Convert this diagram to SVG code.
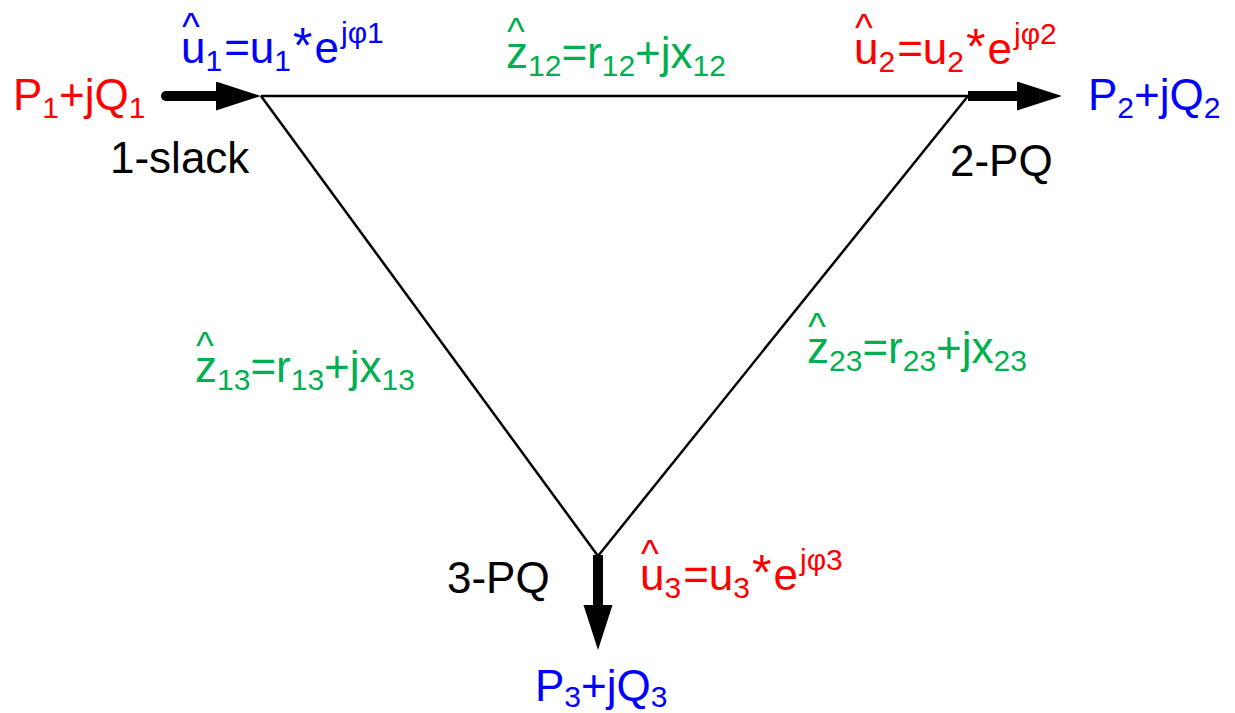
<svg xmlns="http://www.w3.org/2000/svg" width="1235" height="713" viewBox="0 0 1235 713">
<defs>
<style>
.t{font-family:"Liberation Sans",Arial,sans-serif;font-size:44px}
.sub{font-size:30px}
.sup{font-size:30px}
.ast{font-size:50px}
.hat{font-size:38px}
.red{fill:#FF0000}
.blue{fill:#0000FF}
.green{fill:#00B050}
.black{fill:#000000}
.edge{stroke:#000;stroke-width:2.5;fill:none}
.flow{stroke:#000;stroke-width:10;fill:none;marker-end:url(#head)}
</style>
<marker id="head" markerUnits="userSpaceOnUse" markerWidth="46" markerHeight="30" refX="9" refY="14.5" orient="auto" viewBox="0 0 46 30">
<path d="M0,0 L45,14.5 L0,29 Z" fill="#000"/>
</marker>
</defs>
<rect width="1235" height="713" fill="#fff"/>
<g id="connectors">
<line class="edge" x1="261" y1="96" x2="968" y2="96"/>
<line class="edge" x1="261" y1="96" x2="598" y2="556"/>
<line class="edge" x1="968" y1="96" x2="598" y2="556"/>
<line class="flow" x1="166" y1="96" x2="225" y2="96" stroke-linecap="round"/>
<line class="flow" x1="968" y1="96" x2="1026" y2="96"/>
<line class="flow" x1="598" y1="555" x2="598" y2="614"/>
</g>
<g id="node1">
<text class="t red" x="13" y="110">P<tspan class="sub" dy="8">1</tspan><tspan dy="-8">+jQ</tspan><tspan class="sub" dy="8">1</tspan></text>
<text class="t black" x="110" y="173">1-slack</text>
<text class="t blue" x="181" y="63"><tspan class="hat" x="182" dy="-23">^</tspan><tspan x="181" dy="23">u</tspan><tspan class="sub" dy="8">1</tspan><tspan dy="-8" dx="2">=u</tspan><tspan class="sub" dy="8">1</tspan><tspan class="ast" dy="-8" dx="2">*</tspan><tspan dx="2">e</tspan><tspan class="sup" dy="-20" dx="2">jφ1</tspan></text>
</g>
<g id="node2">
<text class="t red" x="854" y="64"><tspan class="hat" x="855" dy="-23">^</tspan><tspan x="854" dy="23">u</tspan><tspan class="sub" dy="8">2</tspan><tspan dy="-8" dx="2">=u</tspan><tspan class="sub" dy="8">2</tspan><tspan class="ast" dy="-8" dx="2">*</tspan><tspan dx="2">e</tspan><tspan class="sup" dy="-20" dx="2">jφ2</tspan></text>
<text class="t blue" x="1088" y="110">P<tspan class="sub" dy="8">2</tspan><tspan dy="-8">+jQ</tspan><tspan class="sub" dy="8">2</tspan></text>
<text class="t black" x="950" y="176">2-PQ</text>
</g>
<g id="node3">
<text class="t black" x="447" y="593">3-PQ</text>
<text class="t red" x="640" y="590"><tspan class="hat" x="641" dy="-23">^</tspan><tspan x="640" dy="23">u</tspan><tspan class="sub" dy="8">3</tspan><tspan dy="-8" dx="2">=u</tspan><tspan class="sub" dy="8">3</tspan><tspan class="ast" dy="-8" dx="2">*</tspan><tspan dx="2">e</tspan><tspan class="sup" dy="-20" dx="2">jφ3</tspan></text>
<text class="t blue" x="535" y="701">P<tspan class="sub" dy="6">3</tspan><tspan dy="-6">+jQ</tspan><tspan class="sub" dy="6">3</tspan></text>
</g>
<g id="edge-labels">
<text class="t green" x="506" y="68"><tspan class="hat" x="507" dy="-23">^</tspan><tspan x="506" dy="23">z</tspan><tspan class="sub" dy="8">12</tspan><tspan dy="-8">=r</tspan><tspan class="sub" dy="8">12</tspan><tspan dy="-8">+jx</tspan><tspan class="sub" dy="8">12</tspan></text>
<text class="t green" x="195" y="382"><tspan class="hat" x="196" dy="-23">^</tspan><tspan x="195" dy="23">z</tspan><tspan class="sub" dy="8">13</tspan><tspan dy="-8">=r</tspan><tspan class="sub" dy="8">13</tspan><tspan dy="-8">+jx</tspan><tspan class="sub" dy="8">13</tspan></text>
<text class="t green" x="807" y="363"><tspan class="hat" x="808" dy="-23">^</tspan><tspan x="807" dy="23">z</tspan><tspan class="sub" dy="8">23</tspan><tspan dy="-8">=r</tspan><tspan class="sub" dy="8">23</tspan><tspan dy="-8">+jx</tspan><tspan class="sub" dy="8">23</tspan></text>
</g>
</svg>
